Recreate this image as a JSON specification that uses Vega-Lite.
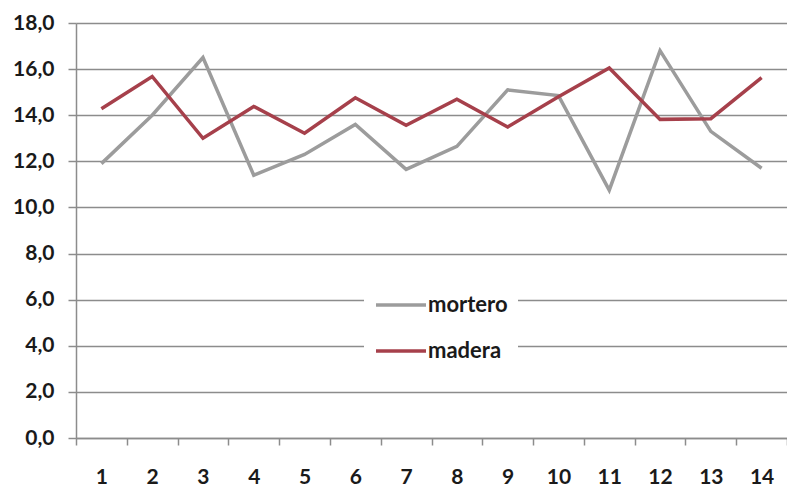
{
  "$schema": "https://vega.github.io/schema/vega-lite/v6.json",
  "width": 711,
  "height": 415,
  "autosize": {"type": "none"},
  "padding": {"left": 76, "top": 23, "right": 0, "bottom": 52},
  "background": "white",
  "config": {
    "view": {"stroke": null},
    "font": "Lato"
  },
  "data": {
    "values": [
      {"n": 1, "serie": "mortero", "valor": 11.9},
      {"n": 2, "serie": "mortero", "valor": 14.0},
      {"n": 3, "serie": "mortero", "valor": 16.5},
      {"n": 4, "serie": "mortero", "valor": 11.4},
      {"n": 5, "serie": "mortero", "valor": 12.3},
      {"n": 6, "serie": "mortero", "valor": 13.6},
      {"n": 7, "serie": "mortero", "valor": 11.65},
      {"n": 8, "serie": "mortero", "valor": 12.65},
      {"n": 9, "serie": "mortero", "valor": 15.1},
      {"n": 10, "serie": "mortero", "valor": 14.85},
      {"n": 11, "serie": "mortero", "valor": 10.75},
      {"n": 12, "serie": "mortero", "valor": 16.8},
      {"n": 13, "serie": "mortero", "valor": 13.3},
      {"n": 14, "serie": "mortero", "valor": 11.7},
      {"n": 1, "serie": "madera", "valor": 14.28},
      {"n": 2, "serie": "madera", "valor": 15.68},
      {"n": 3, "serie": "madera", "valor": 13.0},
      {"n": 4, "serie": "madera", "valor": 14.38},
      {"n": 5, "serie": "madera", "valor": 13.22},
      {"n": 6, "serie": "madera", "valor": 14.76},
      {"n": 7, "serie": "madera", "valor": 13.56},
      {"n": 8, "serie": "madera", "valor": 14.69},
      {"n": 9, "serie": "madera", "valor": 13.49},
      {"n": 10, "serie": "madera", "valor": 14.8},
      {"n": 11, "serie": "madera", "valor": 16.05},
      {"n": 12, "serie": "madera", "valor": 13.82},
      {"n": 13, "serie": "madera", "valor": 13.85},
      {"n": 14, "serie": "madera", "valor": 15.63}
    ]
  },
  "mark": {"type": "line", "strokeWidth": 3.5, "strokeJoin": "miter"},
  "encoding": {
    "x": {
      "field": "n",
      "type": "ordinal",
      "scale": {"type": "band", "paddingInner": 0, "paddingOuter": 0},
      "axis": {
        "title": null,
        "labelAngle": 0,
        "tickBand": "extent",
        "domainColor": "#8c8c8c",
        "domainWidth": 1.5,
        "tickColor": "#8c8c8c",
        "tickWidth": 1.5,
        "tickSize": 7,
        "labelFontSize": 21,
        "labelFontWeight": "bold",
        "labelColor": "#1a1a1a",
        "labelPadding": 21,
        "grid": false
      }
    },
    "y": {
      "field": "valor",
      "type": "quantitative",
      "scale": {"domain": [0, 18], "nice": false, "zero": true},
      "axis": {
        "title": null,
        "values": [0, 2, 4, 6, 8, 10, 12, 14, 16, 18],
        "labelExpr": "replace(format(datum.value, '.1f'), '.', ',')",
        "domainColor": "#8c8c8c",
        "domainWidth": 1.5,
        "tickColor": "#8c8c8c",
        "tickWidth": 1.5,
        "tickSize": 8,
        "gridColor": "#8c8c8c",
        "gridWidth": 1.5,
        "gridOpacity": 1,
        "labelFontSize": 21,
        "labelFontWeight": "bold",
        "labelColor": "#1a1a1a",
        "labelPadding": 14
      }
    },
    "color": {
      "field": "serie",
      "type": "nominal",
      "sort": ["mortero", "madera"],
      "scale": {"domain": ["mortero", "madera"], "range": ["#9c9c9c", "#a6404b"]},
      "legend": {
        "title": null,
        "orient": "none",
        "legendX": 288,
        "legendY": 245,
        "padding": 10,
        "fillColor": "white",
        "symbolType": "stroke",
        "symbolSize": 2500,
        "symbolStrokeWidth": 3.5,
        "rowPadding": 8,
        "labelOffset": 0,
        "labelFontSize": 22,
        "labelFontWeight": "bold",
        "labelColor": "#1a1a1a"
      }
    }
  }
}
